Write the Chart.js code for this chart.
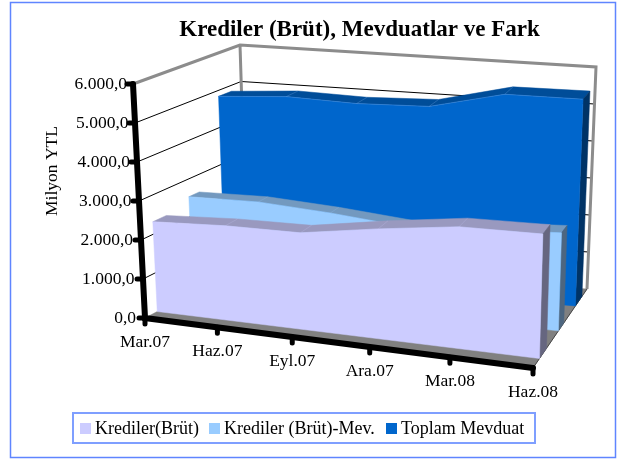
<!DOCTYPE html>
<html>
<head>
<meta charset="utf-8">
<title>Krediler (Brüt), Mevduatlar ve Fark</title>
<script src="https://cdn.jsdelivr.net/npm/chart.js@4"></script>
<style>
  html, body { margin: 0; padding: 0; background: #fff; }
  #wrap { width: 618px; height: 459px; }
</style>
</head>
<body>
<div id="wrap"><canvas id="chart" width="618" height="459"></canvas></div>
<script>
// Data
const categories = ["Mar.07", "Haz.07", "Eyl.07", "Ara.07", "Mar.08", "Haz.08"];
const yTicks = [0, 1000, 2000, 3000, 4000, 5000, 6000];
const krediler = [2320, 2440, 2490, 2830, 3130, 3200];
const kredilerMev = [2535, 2580, 2480, 2320, 2450, 2570];
const toplamMevduat = [4840, 4975, 4935, 5010, 5490, 5520];
const seriesNames = ["Krediler(Brüt)", "Krediler (Brüt)-Mev.", "Toplam Mevduat"];

const yMax = 6000;
const font = '"Liberation Serif", "Times New Roman", serif';

// Box corners in pixels: [category end, value end, depth end]
const corners = {
  "000": [145, 318], "100": [533, 368],
  "010": [133, 84],  "110": [539, 133],
  "001": [247, 264], "101": [587, 289],
  "011": [240, 45],  "111": [596, 67]
};
const perspective = 1.09; // categories get wider toward the viewer

function project(i, value, depth) {
  const t = i / (categories.length - 1);
  const u = t / (perspective + (1 - perspective) * t);
  const v = value / yMax;
  let x = 0, y = 0;
  for (const key in corners) {
    const w = (key[0] === "1" ? u : 1 - u) * (key[1] === "1" ? v : 1 - v) * (key[2] === "1" ? depth : 1 - depth);
    x += w * corners[key][0];
    y += w * corners[key][1];
  }
  return { x, y };
}

const layers = [];

function shape(points, color) {
  layers.push({
    data: points.concat(points[0]),
    showLine: true,
    fill: "shape",
    backgroundColor: color,
    borderColor: color,
    borderWidth: 0.5,
    pointRadius: 0,
    tension: 0
  });
}

function line(points, color, width, cap) {
  layers.push({
    data: points,
    showLine: true,
    fill: false,
    borderColor: color,
    borderWidth: width,
    borderCapStyle: cap || "butt",
    pointRadius: 0,
    tension: 0
  });
}

// Floor
const last = categories.length - 1;
shape([project(0, 0, 0), project(last, 0, 0), project(last, 0, 1), project(0, 0, 1)], "#808080");
line([project(last, 0, 0), project(last, 0, 1)], "#444444", 1);

// Grid lines on the side wall and back wall
yTicks.slice(1, -1).forEach(v => {
  line([project(0, v, 0), project(0, v, 1), project(last, v, 1)], "#000000", 1);
});

// Wall edges
const edge = "#8C8C8C";
line([project(0, yMax, 0), project(0, yMax, 1), project(last, yMax, 1), project(last, 0, 1)], edge, 3);
line([project(0, yMax, 1), project(0, 0, 1)], edge, 3);

// One extruded area per series, back to front
function area(values, front, back, colors) {
  const topFront = values.map((v, i) => project(i, v, front));
  const topBack = values.map((v, i) => project(i, v, back));
  shape(topFront.concat(topBack.slice().reverse()), colors.top);
  shape([project(last, values[last], front), project(last, values[last], back), project(last, 0, back), project(last, 0, front)], colors.side);
  shape(topFront.concat(project(last, 0, front), project(0, 0, front)), colors.front);
  // faint seams on the top face
  values.forEach((v, i) => {
    if (i > 0 && i < last) line([project(i, v, front), project(i, v, back)], colors.seam, 0.5);
  });
  line(topFront, colors.seam, 0.5);
}

const seriesColors = [
  { front: "#CCCCFF", top: "#9999BF", side: "#666680", seam: "rgba(204,204,255,0.4)" },
  { front: "#99CCFF", top: "#7399BF", side: "#4D6680", seam: "rgba(153,204,255,0.4)" },
  { front: "#0066CC", top: "#004D99", side: "#003366", seam: "rgba(120,170,230,0.6)" }
];

area(toplamMevduat, 0.785, 0.906, seriesColors[2]);
area(kredilerMev, 0.47, 0.57, seriesColors[1]);
area(krediler, 0.12, 0.25, seriesColors[0]);

// Front axes and tick marks
line([project(0, yMax, 0), project(0, 0, 0), project(last, 0, 0)], "#000000", 6, "round");
yTicks.forEach(v => {
  const p = project(0, v, 0);
  line([p, { x: p.x - 6, y: p.y }], "#000000", 5, "round");
});
categories.forEach((c, i) => {
  const p = project(i, 0, 0);
  line([p, { x: p.x, y: p.y + 6 }], "#000000", 5, "round");
});

// Text, legend and frame
const textPlugin = {
  id: "chartText",
  afterDraw(chart) {
    const ctx = chart.ctx;
    ctx.save();
    ctx.strokeStyle = "#5F85FF";
    ctx.lineWidth = 1.5;
    ctx.strokeRect(10.5, 2.5, 605, 455);

    ctx.fillStyle = "#000000";
    ctx.font = "bold 23px " + font;
    ctx.textAlign = "center";
    ctx.fillText("Krediler (Brüt), Mevduatlar ve Fark", 359.5, 36);

    ctx.font = "17.5px " + font;
    ctx.textAlign = "right";
    yTicks.forEach(v => {
      const p = project(0, v, 0);
      const label = v.toLocaleString("de-DE", { minimumFractionDigits: 1, maximumFractionDigits: 1 });
      ctx.fillText(label, p.x - 6 - 3 * (1 - v / yMax), p.y + 5);
    });

    ctx.textAlign = "center";
    categories.forEach((c, i) => {
      const p = project(i, 0, 0);
      ctx.fillText(c, p.x, p.y + 29);
    });

    ctx.save();
    ctx.translate(57, 171);
    ctx.rotate(-Math.PI / 2);
    ctx.fillText("Milyon YTL", 0, 0);
    ctx.restore();

    // legend
    ctx.strokeStyle = "#7F9FFF";
    ctx.lineWidth = 2;
    ctx.strokeRect(73, 413, 462, 30);
    const markerX = [80, 209, 386];
    ctx.font = "18px " + font;
    ctx.textAlign = "left";
    seriesNames.forEach((name, i) => {
      ctx.fillStyle = seriesColors[i].front;
      ctx.fillRect(markerX[i], 423, 11, 11);
      ctx.fillStyle = "#000000";
      ctx.fillText(name, markerX[i] + 15, 434);
    });
    ctx.restore();
  }
};

// Paint order: first layer pushed goes down first
layers.forEach((l, i) => { l.order = layers.length - i; });

new Chart(document.getElementById("chart"), {
  type: "scatter",
  data: { datasets: layers },
  options: {
    responsive: false,
    animation: false,
    layout: { padding: 0 },
    scales: {
      x: { type: "linear", min: 0, max: 618, display: false },
      y: { type: "linear", min: 0, max: 459, reverse: true, display: false }
    },
    plugins: { legend: { display: false }, title: { display: false }, tooltip: { enabled: false } }
  },
  plugins: [textPlugin]
});
</script>
</body>
</html>
